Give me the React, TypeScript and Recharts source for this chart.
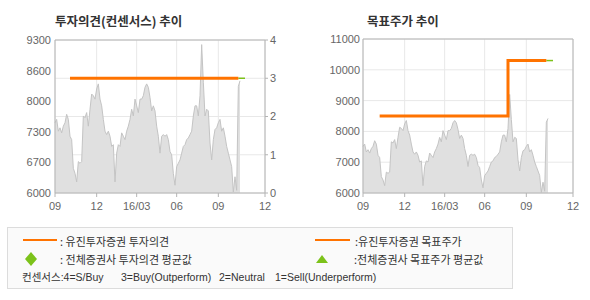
import React from "react";
import {
  ComposedChart, Area, Line, XAxis, YAxis,
  CartesianGrid, ReferenceLine,
} from "recharts";

// daily close (one point per ~1.7px of the original), 15/09 .. 16/11
const price = [
  7515, 7588, 7333, 7406, 7297, 7442, 7515, 7697, 7588, 7224,
  7151, 6532, 6423, 6240, 6677, 6641, 6677, 7661, 7624, 7734,
  7442, 7807, 8134, 8098, 8025, 8244, 8353, 8025, 7880, 7588,
  7333, 7260, 7333, 7224, 7005, 7042, 6240, 6860, 7042, 7005,
  7297, 7224, 7151, 7333, 7442, 7588, 7807, 7661, 8025, 7880,
  7734, 8025, 8025, 8098, 8280, 8353, 8280, 8062, 7770, 7880,
  7770, 7442, 7224, 6860, 7224, 7260, 7224, 7260, 7151, 6896,
  6823, 6423, 6168, 6568, 6641, 6714, 6860, 7005, 7042, 7151,
  7187, 7260, 7333, 7661, 7880, 7880, 7661, 8098, 9200, 8389,
  7661, 7807, 7770, 7078, 6714, 7151, 7370, 7406, 7515, 7588,
  7333, 7406, 7224, 7005, 6860, 6714, 6568, 6022, 6350, 6058,
  8300, 8420,
];

const xTickPos = [0, 25, 49, 73, 98, 126];
const xTickLabels = ["09", "12", "16/03", "06", "09", "12"];
const leftPriceTicks = [6000, 6660, 7320, 7980, 8640, 9300];
const opinionTicks = [0, 1, 2, 3, 4];
const targetTicks = [6000, 7000, 8000, 9000, 10000, 11000];

const opinionSpans = [{ from: 9, to: 110, value: 3 }];
const opinionAvgSpans = [{ from: 110, to: 114, value: 3 }];
const targetSpans = [
  { from: 10, to: 86, value: 8500 },
  { from: 87, to: 110, value: 10300 },
];
const targetAvgSpans = [{ from: 110, to: 114, value: 10300 }];

type Span = { from: number; to: number; value: number };
const pick = (spans: Span[], i: number) => {
  const s = spans.find((s) => i >= s.from && i <= s.to);
  return s ? s.value : null;
};

const rows = Array.from({ length: 115 }, (_, i) => ({
  i,
  price: i < price.length ? price[i] : null,
  opinion: pick(opinionSpans, i),
  opinionAvg: pick(opinionAvgSpans, i),
  target: pick(targetSpans, i),
  targetAvg: pick(targetAvgSpans, i),
}));

const ORANGE = "#ff7300";
const GREEN = "#7cc21a";
const AREA_FILL = "#e0e0e0";
const AREA_STROKE = "#c4c4c4";
const GRID = "#e8e8e8";
const BORDER = "#b4b4b4";
const TEXT = "#666";
const FONT = "'Liberation Sans', Arial, 'Noto Sans CJK KR', sans-serif";
const KFONT = "'Noto Sans CJK KR', 'Liberation Sans', sans-serif";

const tickStyle = { fontSize: 11, fill: TEXT, fontFamily: FONT };
const xFmt = (v: number) => xTickLabels[xTickPos.indexOf(v)] ?? "";

function OpinionChart() {
  return (
    <ComposedChart width={300} height={220} data={rows}
      margin={{ top: 40, right: 5, bottom: 2, left: 5 }}>
      <Area yAxisId="p" dataKey="price" type="linear" fill={AREA_FILL} fillOpacity={1}
        stroke={AREA_STROKE} strokeWidth={1} dot={false} activeDot={false}
        isAnimationActive={false} />
      <CartesianGrid yAxisId="o" stroke={GRID} />
      <ReferenceLine yAxisId="o" y={4} stroke={BORDER} />
      <Line yAxisId="o" dataKey="opinionAvg" stroke={GREEN} strokeWidth={1.5}
        dot={false} activeDot={false} isAnimationActive={false} />
      <Line yAxisId="o" dataKey="opinion" stroke={ORANGE} strokeWidth={3}
        dot={false} activeDot={false} isAnimationActive={false} />
      <XAxis dataKey="i" type="number" domain={[0, 126]} ticks={xTickPos}
        tickFormatter={xFmt} interval={0} height={25} tickSize={4} tickMargin={5}
        stroke={BORDER} tick={tickStyle} />
      <YAxis yAxisId="p" domain={[6000, 9300]} ticks={leftPriceTicks} width={50}
        tickFormatter={(v: number) => String(Math.round(v / 100) * 100)}
        tickLine={false} tickSize={3} tickMargin={1} stroke={BORDER} tick={tickStyle}
        interval={0} />
      <YAxis yAxisId="o" orientation="right" domain={[0, 4]} ticks={opinionTicks}
        width={30} tickSize={3} tickMargin={2} stroke={BORDER} tick={tickStyle}
        interval={0} />
    </ComposedChart>
  );
}

function TargetChart() {
  return (
    <ComposedChart width={295} height={220} data={rows}
      margin={{ top: 39, right: 17, bottom: 2, left: 8 }}>
      <Area dataKey="price" type="linear" fill={AREA_FILL} fillOpacity={1}
        stroke={AREA_STROKE} strokeWidth={1} dot={false} activeDot={false}
        isAnimationActive={false} />
      <CartesianGrid stroke={GRID} />
      <ReferenceLine y={11000} stroke={BORDER} />
      <ReferenceLine x={126} stroke={BORDER} />
      <Line dataKey="targetAvg" stroke={GREEN} strokeWidth={1.5}
        dot={false} activeDot={false} isAnimationActive={false} />
      <Line dataKey="target" type="stepAfter" stroke={ORANGE} strokeWidth={3}
        dot={false} activeDot={false} isAnimationActive={false} />
      <XAxis dataKey="i" type="number" domain={[0, 126]} ticks={xTickPos}
        tickFormatter={xFmt} interval={0} height={25} tickSize={4} tickMargin={5}
        stroke={BORDER} tick={tickStyle} />
      <YAxis domain={[6000, 11000]} ticks={targetTicks} width={60}
        tickLine={false} tickSize={3} tickMargin={0} stroke={BORDER} tick={tickStyle}
        interval={0} />
    </ComposedChart>
  );
}

const txt = (left: number, cy: number, size = 11, font = KFONT): React.CSSProperties => ({
  position: "absolute", left, top: cy - 8, lineHeight: "16px", fontSize: size,
  color: "#333", fontFamily: font, whiteSpace: "pre",
});

export default function App() {
  return (
    <div style={{ position: "absolute", left: 0, top: 0, width: 590, height: 300, background: "#fff" }}>
      <div style={{ position: "absolute", left: 55, top: 12, fontSize: 12.5, fontWeight: 700,
        color: "#333", fontFamily: KFONT, lineHeight: "17px" }}>투자의견(컨센서스) 추이</div>
      <div style={{ position: "absolute", left: 367, top: 12, fontSize: 12.5, fontWeight: 700,
        color: "#333", fontFamily: KFONT, lineHeight: "17px" }}>목표주가 추이</div>

      <div style={{ position: "absolute", left: 0, top: 0 }}><OpinionChart /></div>
      <div style={{ position: "absolute", left: 295, top: 0 }}><TargetChart /></div>

      <div style={{ position: "absolute", left: 7, top: 227, width: 504, height: 60,
        border: "1px solid #dcdcdc", background: "#fafafa" }} />
      <div style={{ position: "absolute", left: 23, top: 239, width: 34, height: 2, background: ORANGE }} />
      <div style={txt(60, 241)}>: 유진투자증권 투자의견</div>
      <svg style={{ position: "absolute", left: 24, top: 252 }} width={14} height={14}>
        <polygon points="7,0 13,7 7,14 1,7" fill={GREEN} />
      </svg>
      <div style={txt(60, 259)}>: 전체증권사 투자의견 평균값</div>
      <div style={{ position: "absolute", left: 315, top: 239, width: 35, height: 2, background: ORANGE }} />
      <div style={txt(355, 241)}>:유진투자증권 목표주가</div>
      <svg style={{ position: "absolute", left: 315, top: 255 }} width={14} height={9}>
        <polygon points="7,0 13,8 1,8" fill={GREEN} />
      </svg>
      <div style={txt(354, 259)}>:전체증권사 목표주가 평균값</div>
      <div style={txt(22, 277, 10.5, FONT)}>컨센서스:4=S/Buy</div>
      <div style={txt(121, 277, 10.5, FONT)}>3=Buy(Outperform)</div>
      <div style={txt(219, 277, 10.5, FONT)}>2=Neutral</div>
      <div style={txt(275, 277, 10.5, FONT)}>1=Sell(Underperform)</div>
    </div>
  );
}
